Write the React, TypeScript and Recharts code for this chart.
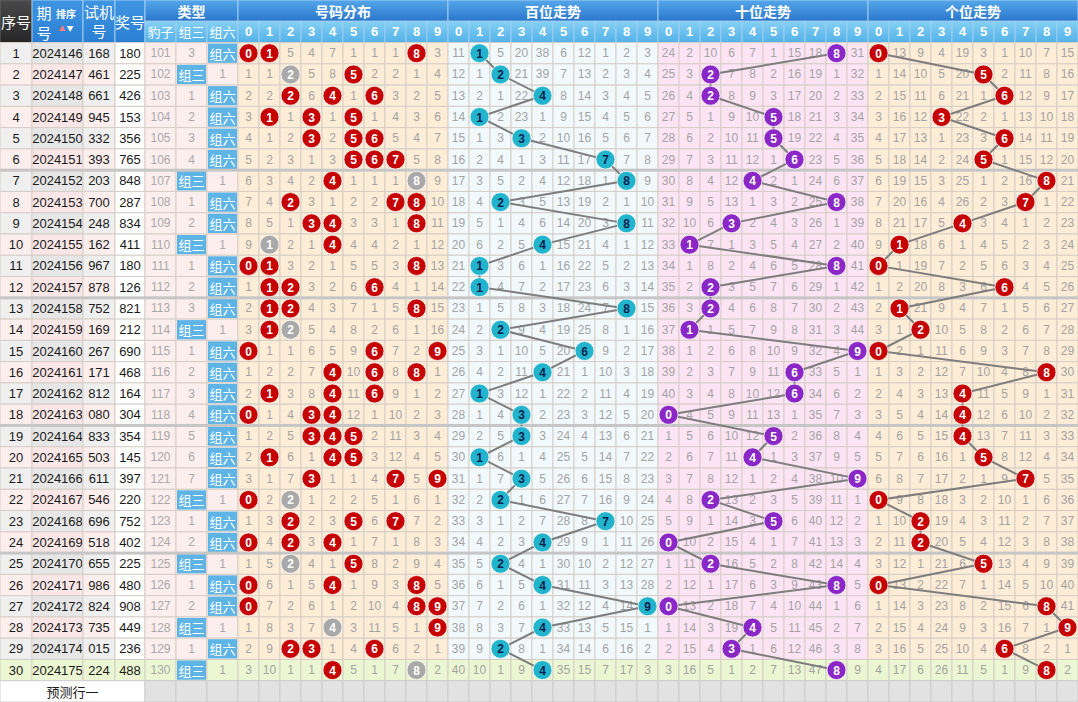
import React from 'react';
import { ScatterChart, Scatter, XAxis, YAxis } from 'recharts';

const periods = [
  '2024146', '2024147', '2024148', '2024149', '2024150', '2024151', '2024152', '2024153', '2024154', '2024155',
  '2024156', '2024157', '2024158', '2024159', '2024160', '2024161', '2024162', '2024163', '2024164', '2024165',
  '2024166', '2024167', '2024168', '2024169', '2024170', '2024171', '2024172', '2024173', '2024174', '2024175',
];
const testNumbers = [
  '168', '461', '661', '945', '332', '393', '203', '700', '248', '162',
  '967', '878', '752', '169', '267', '171', '812', '080', '833', '503',
  '611', '546', '696', '518', '655', '986', '824', '735', '015', '224',
];
const prizeNumbers = [
  '180', '225', '426', '153', '356', '765', '848', '287', '834', '411',
  '180', '126', '821', '212', '690', '468', '164', '304', '354', '145',
  '397', '220', '752', '402', '225', '480', '908', '449', '236', '488',
];
const leopardMiss = [
  101, 102, 103, 104, 105, 106, 107, 108, 109, 110, 111, 112, 113, 114, 115,
  116, 117, 118, 119, 120, 121, 122, 123, 124, 125, 126, 127, 128, 129, 130,
];
const drawTypes = [
  '组六', '组三', '组六', '组六', '组六', '组六', '组三', '组六', '组六', '组三',
  '组六', '组六', '组六', '组三', '组六', '组六', '组六', '组六', '组六', '组六',
  '组六', '组三', '组六', '组六', '组三', '组六', '组六', '组三', '组六', '组三',
];
const group3Miss = [3, 0, 1, 2, 3, 4, 0, 1, 2, 0, 1, 2, 3, 0, 1, 2, 3, 4, 5, 6, 7, 0, 1, 2, 0, 1, 2, 0, 1, 0];
const group6Miss = [0, 1, 0, 0, 0, 0, 1, 0, 0, 1, 0, 0, 0, 1, 0, 0, 0, 0, 0, 0, 0, 1, 0, 0, 1, 0, 0, 1, 0, 1];

// missing counts per digit column, 0 = hit (ball)
const distMiss = [
  '0 0 5 4 7 1 1 1 0 3', '1 1 0 5 8 0 2 2 1 4', '2 2 0 6 0 1 0 3 2 5', '3 0 1 0 1 0 1 4 3 6',
  '4 1 2 0 2 0 0 5 4 7', '5 2 3 1 3 0 0 0 5 8', '6 3 4 2 0 1 1 1 0 9', '7 4 0 3 1 2 2 0 0 10',
  '8 5 1 0 0 3 3 1 0 11', '9 0 2 1 0 4 4 2 1 12', '0 0 3 2 1 5 5 3 0 13', '1 0 0 3 2 6 0 4 1 14',
  '2 0 0 4 3 7 1 5 0 15', '3 0 0 5 4 8 2 6 1 16', '0 1 1 6 5 9 0 7 2 0', '1 2 2 7 0 10 0 8 0 1',
  '2 0 3 8 0 11 0 9 1 2', '0 1 4 0 0 12 1 10 2 3', '1 2 5 0 0 0 2 11 3 4', '2 0 6 1 0 0 3 12 4 5',
  '3 1 7 0 1 1 4 0 5 0', '0 2 0 1 2 2 5 1 6 1', '1 3 0 2 3 0 6 0 7 2', '0 4 0 3 0 1 7 1 8 3',
  '1 5 0 4 1 0 8 2 9 4', '0 6 1 5 0 1 9 3 0 5', '0 7 2 6 1 2 10 4 0 0', '1 8 3 7 0 3 11 5 1 0',
  '2 9 0 0 1 4 0 6 2 1', '3 10 1 1 0 5 1 7 0 2',
];
const hundredsMiss = [
  '11 0 5 20 38 6 12 1 2 3', '12 1 0 21 39 7 13 2 3 4', '13 2 1 22 0 8 14 3 4 5', '14 0 2 23 1 9 15 4 5 6',
  '15 1 3 0 2 10 16 5 6 7', '16 2 4 1 3 11 17 0 7 8', '17 3 5 2 4 12 18 1 0 9', '18 4 0 3 5 13 19 2 1 10',
  '19 5 1 4 6 14 20 3 0 11', '20 6 2 5 0 15 21 4 1 12', '21 0 3 6 1 16 22 5 2 13', '22 0 4 7 2 17 23 6 3 14',
  '23 1 5 8 3 18 24 7 0 15', '24 2 0 9 4 19 25 8 1 16', '25 3 1 10 5 20 0 9 2 17', '26 4 2 11 0 21 1 10 3 18',
  '27 0 3 12 1 22 2 11 4 19', '28 1 4 0 2 23 3 12 5 20', '29 2 5 0 3 24 4 13 6 21', '30 0 6 1 4 25 5 14 7 22',
  '31 1 7 0 5 26 6 15 8 23', '32 2 0 1 6 27 7 16 9 24', '33 3 1 2 7 28 8 0 10 25', '34 4 2 3 0 29 9 1 11 26',
  '35 5 0 4 1 30 10 2 12 27', '36 6 1 5 0 31 11 3 13 28', '37 7 2 6 1 32 12 4 14 0', '38 8 3 7 0 33 13 5 15 1',
  '39 9 0 8 1 34 14 6 16 2', '40 10 1 9 0 35 15 7 17 3',
];
const tensMiss = [
  '24 2 10 6 7 1 15 18 0 31', '25 3 0 7 8 2 16 19 1 32', '26 4 0 8 9 3 17 20 2 33', '27 5 1 9 10 0 18 21 3 34',
  '28 6 2 10 11 0 19 22 4 35', '29 7 3 11 12 1 0 23 5 36', '30 8 4 12 0 2 1 24 6 37', '31 9 5 13 1 3 2 25 0 38',
  '32 10 6 0 2 4 3 26 1 39', '33 0 7 1 3 5 4 27 2 40', '34 1 8 2 4 6 5 28 0 41', '35 2 0 3 5 7 6 29 1 42',
  '36 3 0 4 6 8 7 30 2 43', '37 0 1 5 7 9 8 31 3 44', '38 1 2 6 8 10 9 32 4 0', '39 2 3 7 9 11 0 33 5 1',
  '40 3 4 8 10 12 0 34 6 2', '0 4 5 9 11 13 1 35 7 3', '1 5 6 10 12 0 2 36 8 4', '2 6 7 11 0 1 3 37 9 5',
  '3 7 8 12 1 2 4 38 10 0', '4 8 0 13 2 3 5 39 11 1', '5 9 1 14 3 0 6 40 12 2', '0 10 2 15 4 1 7 41 13 3',
  '1 11 0 16 5 2 8 42 14 4', '2 12 1 17 6 3 9 43 0 5', '0 13 2 18 7 4 10 44 1 6', '1 14 3 19 0 5 11 45 2 7',
  '2 15 4 0 1 6 12 46 3 8', '3 16 5 1 2 7 13 47 0 9',
];
const unitsMiss = [
  '0 13 9 4 19 3 1 10 7 15', '1 14 10 5 20 0 2 11 8 16', '2 15 11 6 21 1 0 12 9 17', '3 16 12 0 22 2 1 13 10 18',
  '4 17 13 1 23 3 0 14 11 19', '5 18 14 2 24 0 1 15 12 20', '6 19 15 3 25 1 2 16 0 21', '7 20 16 4 26 2 3 0 1 22',
  '8 21 17 5 0 3 4 1 2 23', '9 0 18 6 1 4 5 2 3 24', '0 1 19 7 2 5 6 3 4 25', '1 2 20 8 3 6 0 4 5 26',
  '2 0 21 9 4 7 1 5 6 27', '3 1 0 10 5 8 2 6 7 28', '0 2 1 11 6 9 3 7 8 29', '1 3 2 12 7 10 4 8 0 30',
  '2 4 3 13 0 11 5 9 1 31', '3 5 4 14 0 12 6 10 2 32', '4 6 5 15 0 13 7 11 3 33', '5 7 6 16 1 0 8 12 4 34',
  '6 8 7 17 2 1 9 0 5 35', '0 9 8 18 3 2 10 1 6 36', '1 10 0 19 4 3 11 2 7 37', '2 11 0 20 5 4 12 3 8 38',
  '3 12 1 21 6 0 13 4 9 39', '0 13 2 22 7 1 14 5 10 40', '1 14 3 23 8 2 15 6 0 41', '2 15 4 24 9 3 16 7 1 0',
  '3 16 5 25 10 4 0 8 2 1', '4 17 6 26 11 5 1 9 0 2',
];
const digitLabels = ['0', '1', '2', '3', '4', '5', '6', '7', '8', '9'];
const sectionTitles = ['号码分布', '百位走势', '十位走势', '个位走势'];
const typeLabels = ['豹子', '组三', '组六'];
const forecastLabel = '预测行一';

// ---- layout ----
const W = 1078;
const H = 702;
const Y_TOP = -2;
const Y_BOTTOM = 31;
const ROW_PX = H / (Y_BOTTOM - Y_TOP);
const LEAD_W = [32, 51, 32, 30, 31, 31, 31];
const DIGIT_W = 21;
const LEAD_X: number[] = [0];
LEAD_W.forEach((w) => LEAD_X.push(LEAD_X[LEAD_X.length - 1] + w));
const DIGIT_X0 = LEAD_X[LEAD_X.length - 1];
const X_MAX = DIGIT_X0 + 40 * DIGIT_W;
const X_PX = W / X_MAX;
const FONT = '"Liberation Sans", Arial, "Noto Sans CJK SC", sans-serif';
const CJK = '"Noto Sans CJK SC", "Liberation Sans", sans-serif';
const GRID = '#d6cec6';
const SECTION_BG = ['#fdecd6', '#f1f9fd', '#fde4f5', '#fdecd6'];
const SEPARATORS = [6, 12, 18, 24];

type Cell = {
  x: number; y: number; w: number; h: number; fill: string;
  lines?: string[]; color?: string; size?: number; bold?: boolean;
  stroke?: string; box?: boolean; kind?: string; font?: string;
};

const cells: Cell[] = [];
const addCell = (x1: number, x2: number, y1: number, y2: number, fill: string, extra: Partial<Cell> = {}) => {
  cells.push({ x: (x1 + x2) / 2, y: (y1 + y2) / 2, w: x2 - x1, h: y2 - y1, fill, ...extra });
};
const colLeft = (s: number, d: number) => DIGIT_X0 + (s * 10 + d) * DIGIT_W;

// header
const HS = '#9fcdf0';
addCell(LEAD_X[0], LEAD_X[1], -2, 0, 'url(#gDark)', { lines: ['序号'], color: '#fff', size: 15, stroke: '#666', font: CJK });
addCell(LEAD_X[1], LEAD_X[2], -2, 0, 'url(#gHead)', { kind: 'period', stroke: HS });
addCell(LEAD_X[2], LEAD_X[3], -2, 0, 'url(#gHead)', { lines: ['试机', '号'], color: '#fff', size: 15, stroke: HS, font: CJK });
addCell(LEAD_X[3], LEAD_X[4], -2, 0, 'url(#gHead)', { lines: ['奖号'], color: '#fff', size: 15, stroke: HS, font: CJK });
addCell(LEAD_X[4], LEAD_X[7], -2, -1, 'url(#gTitle)', { lines: ['类型'], color: '#fff', size: 14, bold: true, stroke: HS, font: CJK });
typeLabels.forEach((t, k) =>
  addCell(LEAD_X[4 + k], LEAD_X[5 + k], -1, 0, 'url(#gSub)', { lines: [t], color: '#fff', size: 13, stroke: HS, font: CJK }));
sectionTitles.forEach((t, s) => {
  addCell(colLeft(s, 0), colLeft(s, 0) + 10 * DIGIT_W, -2, -1, 'url(#gTitle)', { lines: [t], color: '#fff', size: 14, bold: true, stroke: HS, font: CJK });
  digitLabels.forEach((d, k) =>
    addCell(colLeft(s, k), colLeft(s, k) + DIGIT_W, -1, 0, 'url(#gSub)', { lines: [d], color: '#fff', size: 13, bold: true, stroke: HS }));
});

// body rows
const sectionMiss = [distMiss, hundredsMiss, tensMiss, unitsMiss];
periods.forEach((p, i) => {
  const last = i === periods.length - 1;
  const oddRow = i % 2 === 0;
  const green = '#ebf7d2';
  const pink = '#fdeeee';
  const lead = [
    last ? green : oddRow ? '#efefef' : pink,
    last ? green : oddRow ? '#e6e6e6' : '#fae6e6',
    last ? green : oddRow ? '#efefef' : pink,
    last ? green : '#ffffff',
  ];
  const texts = [String(i + 1), p, testNumbers[i], prizeNumbers[i]];
  texts.forEach((t, k) =>
    addCell(LEAD_X[k], LEAD_X[k + 1], i, i + 1, lead[k], { lines: [t], color: '#1a1a1a', size: 13, stroke: GRID }));
  const typeBg = last ? green : pink;
  addCell(LEAD_X[4], LEAD_X[5], i, i + 1, typeBg, { lines: [String(leopardMiss[i])], color: '#a8a8a8', size: 12, stroke: GRID });
  const isG3 = drawTypes[i] === '组三';
  addCell(LEAD_X[5], LEAD_X[6], i, i + 1, typeBg, isG3
    ? { lines: ['组三'], box: true, color: '#fff', size: 13, stroke: GRID, font: CJK }
    : { lines: [String(group3Miss[i])], color: '#a8a8a8', size: 12, stroke: GRID });
  addCell(LEAD_X[6], LEAD_X[7], i, i + 1, typeBg, !isG3
    ? { lines: ['组六'], box: true, color: '#fff', size: 13, stroke: GRID, font: CJK }
    : { lines: [String(group6Miss[i])], color: '#a8a8a8', size: 12, stroke: GRID });
  sectionMiss.forEach((rows, s) => {
    rows[i].split(' ').map(Number).forEach((v, d) =>
      addCell(colLeft(s, d), colLeft(s, d) + DIGIT_W, i, i + 1, last ? green : SECTION_BG[s],
        { lines: v === 0 ? [] : [String(v)], color: '#a3a3a3', size: 12, stroke: GRID }));
  });
});

// forecast row
const fy = periods.length;
addCell(LEAD_X[0], LEAD_X[4], fy, fy + 1, '#ffffff', { lines: [forecastLabel], color: '#1a1a1a', size: 13, stroke: '#cfcfcf', font: CJK });
for (let k = 4; k < 7; k++) addCell(LEAD_X[k], LEAD_X[k + 1], fy, fy + 1, '#e2e2e2', { stroke: '#cccccc' });
for (let s = 0; s < 4; s++)
  for (let d = 0; d < 10; d++) addCell(colLeft(s, d), colLeft(s, d) + DIGIT_W, fy, fy + 1, '#e2e2e2', { stroke: '#cccccc' });

// balls
type Ball = { x: number; y: number; label: string; fill: string; ink: string };
const distBalls: Ball[] = [];
prizeNumbers.forEach((num, i) => {
  const ds = num.split('');
  Array.from(new Set(ds)).forEach((d) => {
    const repeated = ds.filter((q) => q === d).length > 1;
    distBalls.push({ x: colLeft(0, Number(d)) + DIGIT_W / 2, y: i + 0.5, label: d, fill: repeated ? '#a9a9a9' : '#c60000', ink: '#fff' });
  });
});
const trendStyle = [
  { fill: '#22b4cd', ink: '#0a2250' },
  { fill: '#8a27c6', ink: '#ffffff' },
  { fill: '#c60000', ink: '#ffffff' },
];
const trendBalls: Ball[][] = [0, 1, 2].map((pos) =>
  prizeNumbers.map((num, i) => {
    const d = num[pos];
    return { x: colLeft(pos + 1, Number(d)) + DIGIT_W / 2, y: i + 0.5, label: d, ...trendStyle[pos] };
  }));
const separatorMarks = SEPARATORS.map((y) => ({ x: X_MAX / 2, y }));

const CellShape = (props: any) => {
  const c: Cell = props.payload;
  const w = c.w * X_PX;
  const h = c.h * ROW_PX;
  const x = props.cx - w / 2;
  const y = props.cy - h / 2;
  const font = c.font || FONT;
  const lines = c.lines || [];
  return (
    <g>
      <rect x={x} y={y} width={w} height={h} fill={c.fill} stroke={c.stroke || GRID} strokeWidth={1} />
      {c.box && <rect x={x + 1} y={y + 1} width={w - 2} height={h - 2} fill="#5fb4e6" />}
      {c.kind === 'period' && (
        <g fontFamily={CJK} fill="#fff">
          <text x={x + 12} y={y + 12} fontSize={15} dominantBaseline="central" textAnchor="middle">期</text>
          <text x={x + 12} y={y + 32} fontSize={15} dominantBaseline="central" textAnchor="middle">号</text>
          <text x={x + 34} y={y + 13} fontSize={10} fontWeight="bold" dominantBaseline="central" textAnchor="middle">排序</text>
          <text x={x + 30} y={y + 28} fontSize={7} fill="#f08080" dominantBaseline="central" textAnchor="middle">▲</text>
          <text x={x + 38} y={y + 28} fontSize={7} fill="#fff" dominantBaseline="central" textAnchor="middle">▼</text>
        </g>
      )}
      {lines.map((t, k) => (
        <text
          key={k}
          x={props.cx}
          y={props.cy + (k - (lines.length - 1) / 2) * 19}
          textAnchor="middle"
          dominantBaseline="central"
          fontSize={c.size || 12}
          fontWeight={c.bold ? 'bold' : 'normal'}
          fontFamily={font}
          fill={c.color || '#999'}
        >
          {t}
        </text>
      ))}
    </g>
  );
};

const BallShape = (props: any) => {
  const b: Ball = props.payload;
  return (
    <g>
      <circle cx={props.cx} cy={props.cy} r={9.5} fill={b.fill} stroke="rgba(255,255,255,0.7)" strokeWidth={1} />
      <text x={props.cx} y={props.cy + 0.5} textAnchor="middle" dominantBaseline="central" fontSize={12}
        fontWeight="bold" fontFamily={FONT} fill={b.ink}>
        {b.label}
      </text>
    </g>
  );
};

const SeparatorShape = (props: any) => (
  <rect x={props.cx - (X_MAX * X_PX) / 2} y={props.cy - 1.5} width={X_MAX * X_PX} height={3} fill="#c6c6c6" />
);

export default function App() {
  return (
    <div style={{ width: W, height: H }}>
      <style>{'body{margin:0}'}</style>
      <ScatterChart width={W} height={H} margin={{ top: 0, right: 0, bottom: 0, left: 0 }}>
        <defs>
          <linearGradient id="gDark" x1="0" y1="0" x2="0" y2="1">
            <stop offset="0%" stopColor="#4a4a4a" />
            <stop offset="100%" stopColor="#262626" />
          </linearGradient>
          <linearGradient id="gHead" x1="0" y1="0" x2="0" y2="1">
            <stop offset="0%" stopColor="#3f95e2" />
            <stop offset="100%" stopColor="#2b7fd3" />
          </linearGradient>
          <linearGradient id="gTitle" x1="0" y1="0" x2="0" y2="1">
            <stop offset="0%" stopColor="#55a6ea" />
            <stop offset="100%" stopColor="#2a76cb" />
          </linearGradient>
          <linearGradient id="gSub" x1="0" y1="0" x2="0" y2="1">
            <stop offset="0%" stopColor="#86d0f4" />
            <stop offset="100%" stopColor="#52b1e8" />
          </linearGradient>
        </defs>
        <XAxis type="number" dataKey="x" domain={[0, X_MAX]} allowDataOverflow hide />
        <YAxis type="number" dataKey="y" domain={[Y_TOP, Y_BOTTOM]} allowDataOverflow reversed hide />
        <Scatter data={cells} shape={CellShape} isAnimationActive={false} />
        <Scatter data={separatorMarks} shape={SeparatorShape} isAnimationActive={false} />
        <Scatter data={distBalls} shape={BallShape} isAnimationActive={false} />
        {trendBalls.map((pts, k) => (
          <Scatter
            key={k}
            data={pts}
            shape={BallShape}
            line={{ stroke: '#7d7d7d', strokeWidth: 2 }}
            lineType="joint"
            isAnimationActive={false}
          />
        ))}
      </ScatterChart>
    </div>
  );
}
